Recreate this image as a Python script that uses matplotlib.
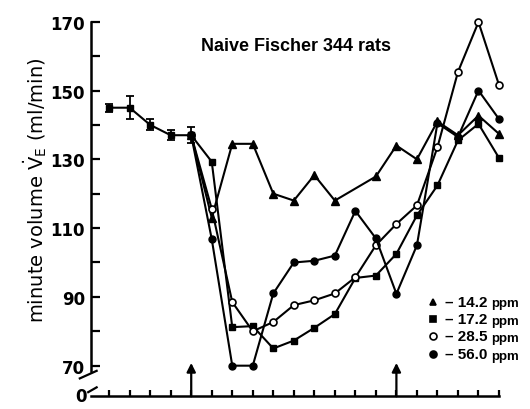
import numpy as np
import matplotlib.pyplot as plt

# pre-exposure baseline (pooled), mean and sem
x_pre = [0, 1, 2, 3, 4]
ve_pre = [145, 145, 140, 137, 137]
sem_pre = [1.2, 3.3, 1.6, 1.5, 2.3]

# exposure series, from the last baseline point on
x_142 = [4, 5, 6, 7, 8, 9, 10, 11, 13, 14, 15, 16, 17, 18, 19]
ve_142 = [137, 113, 134.5, 134.5, 120, 118, 125.4, 118, 125, 134, 130, 141, 137, 142.7, 137.4]

x_all = list(range(4, 20))
ve_172 = [137, 129.3, 81.2, 81.5, 75, 77.3, 81, 85, 95.5, 96.2, 102.5, 113.7, 122.4, 135.5, 140.3, 130.4]
ve_285 = [137, 115.6, 88.5, 80, 82.7, 87.6, 89, 91, 95.7, 105, 111.2, 116.6, 133.5, 155.4, 169.9, 151.6]
ve_560 = [137, 106.8, 70, 70, 91, 100, 100.5, 102, 115, 107, 90.9, 105, 140.5, 136.5, 150, 141.7]

legend_labels = ['14.2', '17.2', '28.5', '56.0']
arrow_at = [4, 14]

fig = plt.figure(figsize=(5.3, 4.1), dpi=100)
ax = fig.add_axes([0.1711, 0.031, 0.7704, 0.9136])

lw = 1.5
ms = 5
kw = dict(color='black', lw=lw, clip_on=False, zorder=3)

ax.errorbar(x_pre, ve_pre, yerr=sem_pre, fmt='-s', ms=ms, capsize=3,
            elinewidth=1.3, capthick=1.3, **kw)
ax.plot(x_142, ve_142, '-^', ms=ms + 0.5, **kw)
ax.plot(x_all, ve_172, '-s', ms=ms - 0.5, **kw)
ax.plot(x_all, ve_285, '-o', ms=ms, mfc='white', mew=1.2, **kw)
ax.plot(x_all, ve_560, '-o', ms=ms, **kw)

ax.set_xlim(-0.9, 19)
ax.set_ylim(61.1, 170)

for s in ['top', 'right']:
    ax.spines[s].set_visible(False)
ax.spines['left'].set_bounds(68.5, 170)
ax.spines['bottom'].set_bounds(-0.9, 19)
for s in ['left', 'bottom']:
    ax.spines[s].set_linewidth(1.8)

ax.set_yticks(np.arange(70, 171, 20))
ax.set_yticks(np.arange(80, 170, 20), minor=True)
ax.tick_params(axis='y', which='both', direction='in', length=6.5, width=1.6, pad=4)
ax.tick_params(axis='y', labelsize=12)
for t in ax.get_yticklabels():
    t.set_fontweight('bold')

ax.set_xticks(range(0, 20))
ax.tick_params(axis='x', direction='in', length=4.5, width=1.6, labelbottom=False)

# axis break marks between 70 and 0
ax.plot([-1.43, -0.61], [66.3, 68.5], color='black', lw=1.6, clip_on=False)
ax.plot([-1.02, -0.61], [62.3, 63.7], color='black', lw=1.6, clip_on=False)
ax.text(-1.1, 61.1, '0', ha='right', va='center', fontsize=12,
        fontweight='bold')

# exposure start / end markers
for xa in arrow_at:
    ax.annotate('', xy=(xa, 70.8), xytext=(xa, 61.1),
                arrowprops=dict(arrowstyle='-|>', color='black', lw=1.6,
                                mutation_scale=13, shrinkA=0, shrinkB=0))

fig.text(0.5585, 0.886, 'Naive Fischer 344 rats', ha='center', va='center',
         fontsize=13, fontweight='bold', family='Liberation Sans')

fig.text(0.066, 0.537, r'minute volume $\dot{\mathrm{V}}_\mathrm{E}$ (ml/min)',
         rotation=90, ha='center', va='center', fontsize=14)

# hand-drawn key
key_style = [dict(marker='^', mfc='black'), dict(marker='s', mfc='black'),
             dict(marker='o', mfc='white'), dict(marker='o', mfc='black')]
row_y = [302.7, 320, 337.3, 355]
for lab, st, py in zip(legend_labels, key_style, row_y):
    fy = 1 - py / 410
    ax.plot([433 / 530], [fy], transform=fig.transFigure, color='black',
            ms=5, mew=1.2, ls='none', clip_on=False, **st)
    fig.text(445 / 530, fy, '\u2013 ' + lab, ha='left', va='center',
             fontsize=11, fontweight='bold', family='Liberation Sans')
    fig.text(491 / 530, fy - 0.004, 'ppm', ha='left', va='center',
             fontsize=9.5, fontweight='bold', family='Liberation Sans')

fig.savefig('out.png', dpi=100)
